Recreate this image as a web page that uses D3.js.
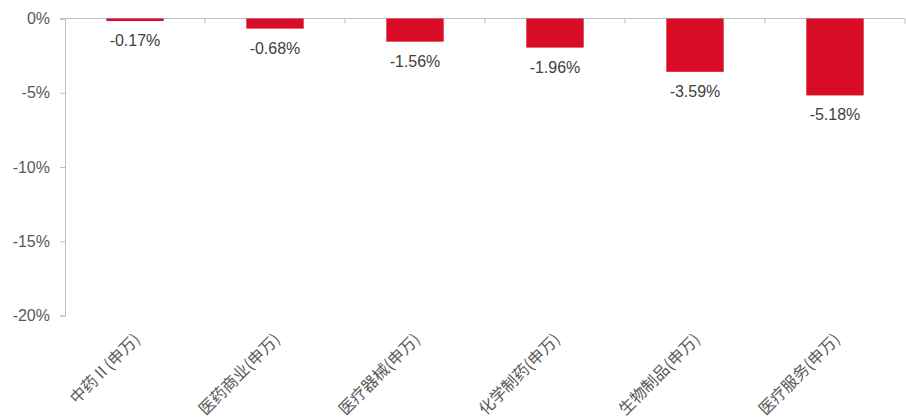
<!DOCTYPE html>
<meta charset="utf-8">
<script src="https://d3js.org/d3.v7.min.js"></script>
<style>
  body { margin: 0; background: #fff; }
  text { font-family: "Liberation Sans", Arial, "Noto Sans CJK SC", sans-serif; }
  text.cat { font-family: "Noto Sans CJK SC", sans-serif; }
</style>
<div id="chart"></div>
<script>
// data
var categories = ["中药Ⅱ(申万)", "医药商业(申万)", "医疗器械(申万)", "化学制药(申万)", "生物制品(申万)", "医疗服务(申万)"];
var values = [-0.17, -0.68, -1.56, -1.96, -3.59, -5.18];
var yTicks = [0, -5, -10, -15, -20];

var width = 906, height = 417;
var margin = {top: 18.5, left: 65, right: 1, bottom: 101.5};

var svg = d3.select("#chart").append("svg")
    .attr("width", width)
    .attr("height", height);

var x = d3.scaleBand()
    .domain(categories)
    .range([margin.left, width - margin.right])
    .paddingInner(0.59)
    .paddingOuter(0.295);

// band without padding, for the tick marks between categories
var xb = d3.scaleBand()
    .domain(categories)
    .range([margin.left, width - margin.right]);

var y = d3.scaleLinear()
    .domain([-20, 0])
    .range([height - margin.bottom, margin.top]);

// y axis
var yAxis = svg.append("g")
    .attr("transform", "translate(" + margin.left + ",0)")
    .call(d3.axisLeft(y).tickValues(yTicks).tickSize(5).tickPadding(10)
      .tickFormat(function(d) { return d + "%"; }));
yAxis.selectAll("path, line").attr("stroke", "#bfbfbf");
yAxis.selectAll("text").attr("fill", "#595959").style("font-size", "16px");

// x axis line at 0 with category separators
svg.append("line")
    .attr("x1", margin.left - 5).attr("x2", width - margin.right)
    .attr("y1", y(0)).attr("y2", y(0))
    .attr("stroke", "#bfbfbf");
svg.append("g").selectAll("line")
    .data(categories)
    .enter().append("line")
      .attr("x1", function(d) { return xb(d) + xb.bandwidth(); })
      .attr("x2", function(d) { return xb(d) + xb.bandwidth(); })
      .attr("y1", y(0)).attr("y2", y(0) + 5)
      .attr("stroke", "#bfbfbf");

// bars
svg.append("g").selectAll("rect")
    .data(values)
    .enter().append("rect")
      .attr("x", function(d, i) { return x(categories[i]); })
      .attr("y", y(0))
      .attr("width", x.bandwidth())
      .attr("height", function(d) { return y(d) - y(0); })
      .attr("fill", "#d80c24");

// value labels
svg.append("g").selectAll("text")
    .data(values)
    .enter().append("text")
      .attr("x", function(d, i) { return x(categories[i]) + x.bandwidth() / 2; })
      .attr("y", function(d) { return y(d) + 25; })
      .attr("text-anchor", "middle")
      .attr("fill", "#404040")
      .style("font-size", "16px")
      .text(function(d) { return d.toFixed(2) + "%"; });

// category labels
svg.append("g").selectAll("text")
    .data(categories)
    .enter().append("text")
      .attr("class", "cat")
      .attr("transform", function(d) {
        return "translate(" + (x(d) + x.bandwidth() / 2 + 2) + "," + (y(-20) + 21) + ") rotate(-45)";
      })
      .attr("text-anchor", "end")
      .attr("dy", "0.35em")
      .attr("fill", "#595959")
      .style("font-size", "16px")
      .text(function(d) { return d; });
</script>
